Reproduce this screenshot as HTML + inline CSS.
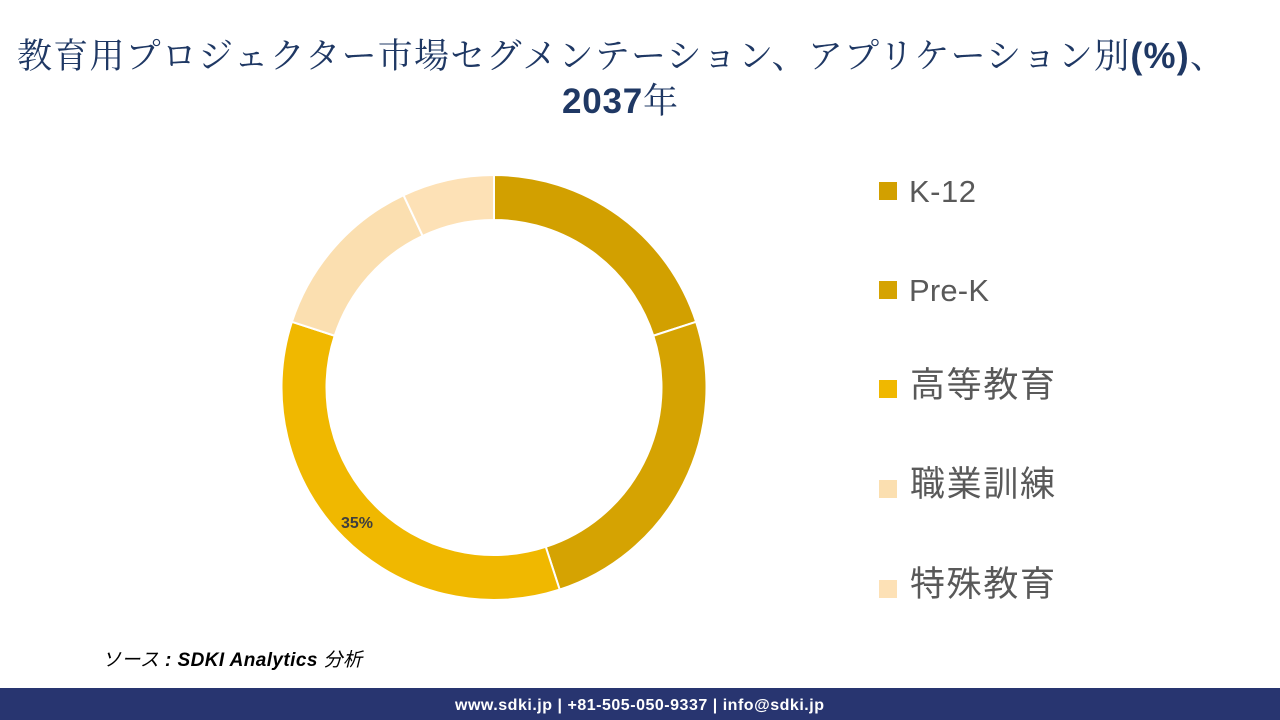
<!DOCTYPE html>
<html lang="ja">
<head>
<meta charset="utf-8">
<style>
  html, body { margin:0; padding:0; background:#ffffff; }
  body { width:1280px; height:720px; overflow:hidden; position:relative; }
  svg { display:block; }
</style>
</head>
<body>
<svg width="1280" height="720" viewBox="0 0 1280 720" xmlns="http://www.w3.org/2000/svg">
  <rect x="0" y="0" width="1280" height="720" fill="#ffffff"/>

  <!-- Title -->
  <text x="17" y="68" textLength="1208" lengthAdjust="spacing" fill="#1f3864"
        style="font-family:'Noto Serif CJK SC','Noto Serif CJK JP',serif;font-size:35px;">教育用プロジェクター市場セグメンテーション、アプリケーション別<tspan style="font-family:'Liberation Sans',sans-serif;font-weight:bold;font-size:36px;">(%)</tspan>、</text>
  <text x="562" y="113" textLength="116" lengthAdjust="spacing" fill="#1f3864"
        style="font-family:'Liberation Sans',sans-serif;font-weight:bold;font-size:35px;">2037<tspan style="font-family:'Noto Serif CJK SC','Noto Serif CJK JP',serif;font-weight:normal;">年</tspan></text>

  <!-- Donut -->
  <g stroke="#ffffff" stroke-width="2" stroke-linejoin="round">
    <path d="M494,175 A212.5,212.5 0 0 1 696.10,321.83 L653.30,335.74 A167.5,167.5 0 0 0 494,220 Z" fill="#d2a000"/>
    <path d="M696.10,321.83 A212.5,212.5 0 0 1 559.67,589.60 L545.76,546.80 A167.5,167.5 0 0 0 653.30,335.74 Z" fill="#d5a302"/>
    <path d="M559.67,589.60 A212.5,212.5 0 0 1 291.90,321.83 L334.70,335.74 A167.5,167.5 0 0 0 545.76,546.80 Z" fill="#f0b800"/>
    <path d="M291.90,321.83 A212.5,212.5 0 0 1 403.52,195.22 L422.68,235.94 A167.5,167.5 0 0 0 334.70,335.74 Z" fill="#fbdfb0"/>
    <path d="M403.52,195.22 A212.5,212.5 0 0 1 494,175 L494,220 A167.5,167.5 0 0 0 422.68,235.94 Z" fill="#fde1b6"/>
  </g>
  <text x="341" y="528" fill="#3f3f3f" style="font-family:'Liberation Sans',sans-serif;font-weight:bold;font-size:16px;">35%</text>

  <!-- Legend -->
  <g style="font-family:'Liberation Sans','Noto Sans CJK JP',sans-serif;" fill="#595959">
    <rect x="879" y="182" width="18" height="18" fill="#d2a000"/>
    <text x="909" y="202" textLength="67" lengthAdjust="spacing" style="font-size:31px;">K-12</text>

    <rect x="879" y="281" width="18" height="18" fill="#d5a302"/>
    <text x="909" y="301" textLength="80" lengthAdjust="spacing" style="font-size:31px;">Pre-K</text>

    <rect x="879" y="380" width="18" height="18" fill="#f0b800"/>
    <text x="910" y="397" textLength="145" lengthAdjust="spacing" style="font-size:35px;">高等教育</text>

    <rect x="879" y="480" width="18" height="18" fill="#fbdfb0"/>
    <text x="910" y="496" textLength="145" lengthAdjust="spacing" style="font-size:35px;">職業訓練</text>

    <rect x="879" y="580" width="18" height="18" fill="#fde1b6"/>
    <text x="910" y="596" textLength="145" lengthAdjust="spacing" style="font-size:35px;">特殊教育</text>
  </g>

  <!-- Source -->
  <text x="102" y="666" textLength="260" lengthAdjust="spacing" fill="#000000"
        style="font-family:'Liberation Sans','Noto Sans CJK JP',sans-serif;font-size:19px;font-style:italic;">ソース<tspan style="font-weight:bold;"> : SDKI Analytics </tspan>分析</text>

  <!-- Footer -->
  <rect x="0" y="688" width="1280" height="32" fill="#283570"/>
  <text x="455" y="710" textLength="369" lengthAdjust="spacing" fill="#ffffff"
        style="font-family:'Liberation Sans',sans-serif;font-weight:bold;font-size:16px;">www.sdki.jp | +81-505-050-9337 | info@sdki.jp</text>
</svg>
</body>
</html>
